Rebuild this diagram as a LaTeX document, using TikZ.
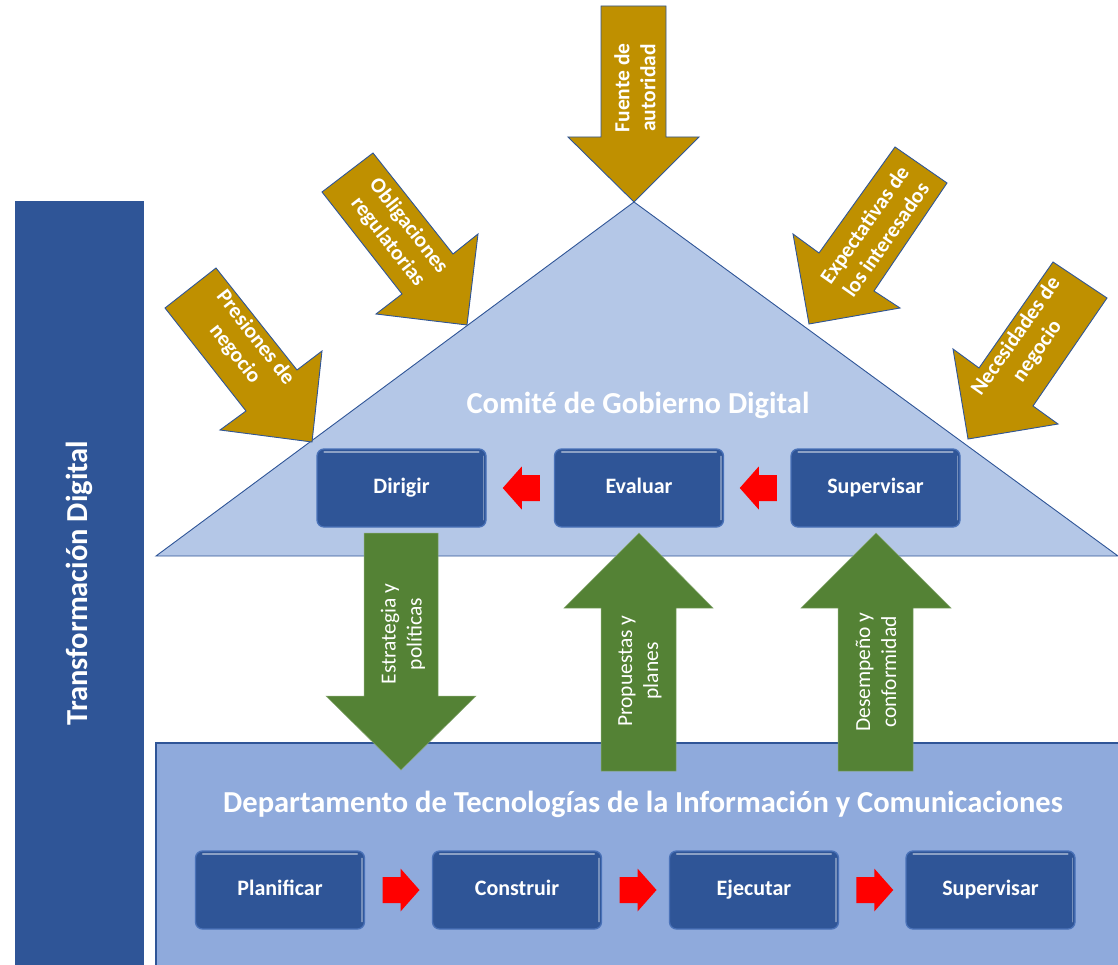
\documentclass[tikz,border=0pt]{standalone}
\usepackage{fontspec}
\setmainfont{Carlito}
\usetikzlibrary{calc}
\definecolor{barblue}{HTML}{2F5597}
\definecolor{triblue}{HTML}{B4C7E7}
\definecolor{deptblue}{HTML}{8FAADC}
\definecolor{goldc}{HTML}{BF9000}
\definecolor{leaf}{HTML}{548235}
\definecolor{boxedge}{HTML}{4A72B8}
\begin{document}
\begin{tikzpicture}[x=1pt,y=-1pt,
  goldarrow/.style={fill=goldc, draw=barblue, line width=0.9pt, line join=miter},
  greenarrow/.style={fill=leaf, draw=leaf!70!white, line width=0.5pt},
  goldtext/.style={text=white, font=\fontsize{21.5}{26}\selectfont\bfseries, align=center, inner sep=0pt},
  greentext/.style={text=white, font=\fontsize{21.5}{26}\selectfont, align=center, inner sep=0pt},
  bigtext/.style={text=white, font=\fontsize{30.5}{34}\selectfont\bfseries, inner sep=0pt},
  stepbox/.style={rounded corners=7pt, fill=barblue, draw=boxedge, line width=1.3pt,
    minimum width=169pt, minimum height=78pt, inner sep=0pt, text=white,
    text height=15pt, text depth=5pt,
    font=\fontsize{22}{26}\selectfont\bfseries},
  redright/.pic={\fill[red] (-18,-13) -- (0,-13) -- (0,-21.5) -- (19,0) -- (0,21.5) -- (0,13) -- (-18,13) -- cycle;}
]
\useasboundingbox (0,0) rectangle (1118,965);

% left bar
\fill[barblue] (15,201) rectangle (144,965);
\node[bigtext, rotate=90] (transf) at (79.5,583) {Transformación Digital};

% department rectangle
\fill[deptblue] (156,743) rectangle (1118,965);
\draw[barblue, line width=1.2pt] (156,965) -- (156,743) -- (1118,743);

% triangle
\draw[fill=triblue, draw=barblue, line width=0.9pt] (634,202) -- (156,556) -- (1118,556) -- cycle;

% gold arrows
\draw[goldarrow] (601,6) -- (666,6) -- (666,137) -- (699,137) -- (634,202) -- (568,137) -- (601,137) -- cycle;
\draw[goldarrow] (165,308) -- (216,268) -- (297,370) -- (322,351) -- (312,442) -- (220,430) -- (246,411) -- cycle;
\draw[goldarrow] (322,192) -- (373,153) -- (453,254) -- (478,234) -- (467,325) -- (376,314) -- (402,294) -- cycle;
\draw[goldarrow] (895,147) -- (947,183) -- (874,291) -- (900,308) -- (809,324) -- (793,234) -- (819,253) -- cycle;
\draw[goldarrow] (1053,262) -- (1107,298) -- (1033,406) -- (1058,424) -- (968,439) -- (953,349) -- (979,368) -- cycle;

\node[goldtext, rotate=90] (fuente) at (635,88) {Fuente de\\autoridad};
\node[goldtext, rotate=-52] (presiones) at (245,346) {Presiones de\\negocio};
\node[goldtext, rotate=-52] (oblig) at (398,234) {Obligaciones\\regulatorias};
\node[goldtext, rotate=55] (expect) at (875,232) {Expectativas de\\los interesados};
\node[goldtext, rotate=55] (neces) at (1027,344) {Necesidades de\\negocio};

\node[bigtext] (comite) at (638,405) {Comité de Gobierno Digital};
\node[bigtext] (depto) at (643,804) {Departamento de Tecnologías de la Información y Comunicaciones};

% top boxes
\node[stepbox] (dirigir) at (401.5,488) {Dirigir};
\node[stepbox] (evaluar) at (639,488) {Evaluar};
\node[stepbox] (supA) at (875.5,488) {Supervisar};

% bottom boxes
\node[stepbox] (plan) at (280,890) {Planificar};
\node[stepbox] (constr) at (517,890) {Construir};
\node[stepbox] (ejec) at (754,890) {Ejecutar};
\node[stepbox] (supB) at (990.5,890) {Supervisar};

\foreach \n in {dirigir,evaluar,supA,plan,constr,ejec,supB}{
  \draw[white, opacity=0.45, line width=2pt, line cap=round]
    ([xshift=8pt,yshift=-4pt]\n.north west) -- ([xshift=-8pt,yshift=-4pt]\n.north east);
  \draw[white, opacity=0.35, line width=1.5pt, line cap=round]
    ([xshift=-3pt,yshift=-8pt]\n.north east) -- ([xshift=-3pt,yshift=8pt]\n.south east);
}

% red arrows
\pic[rotate=180] at ($(dirigir.east)!0.5!(evaluar.west)+(1.5,0)$) {redright};
\pic[rotate=180] at ($(evaluar.east)!0.5!(supA.west)+(1.5,0)$) {redright};
\pic at ($(plan.east)!0.5!(constr.west)+(2,0)$) {redright};
\pic at ($(constr.east)!0.5!(ejec.west)+(2,0)$) {redright};
\pic at ($(ejec.east)!0.5!(supB.west)+(2,0)$) {redright};

% green arrows
\draw[greenarrow] (364,533) -- (438,533) -- (438,696) -- (476,696) -- (401,770) -- (326,696) -- (364,696) -- cycle;
\draw[greenarrow] (639,533) -- (713,608) -- (676,608) -- (676,771) -- (601,771) -- (601,608) -- (564,608) -- cycle;
\draw[greenarrow] (876,533) -- (951,608) -- (913,608) -- (913,771) -- (838,771) -- (838,608) -- (801,608) -- cycle;

\node[greentext, rotate=90] (estrat) at (403,634) {Estrategia y\\políticas};
\node[greentext, rotate=90] (propu) at (640,671) {Propuestas y\\planes};
\node[greentext, rotate=90] (desemp) at (876,672) {Desempeño y\\conformidad};
\end{tikzpicture}
\end{document}
